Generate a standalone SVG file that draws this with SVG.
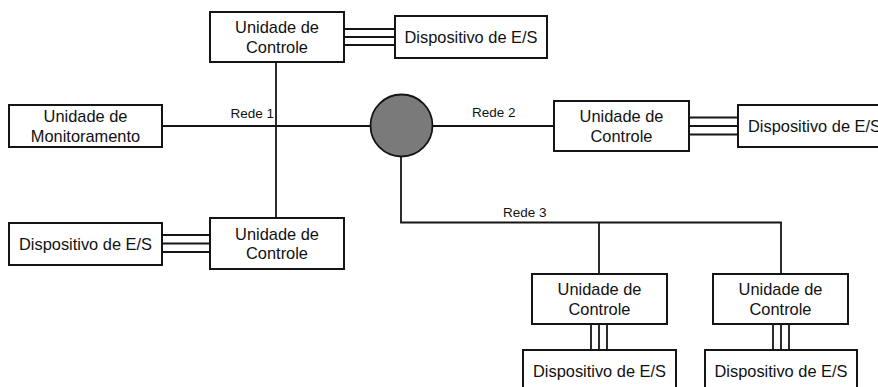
<svg xmlns="http://www.w3.org/2000/svg" width="878" height="387" viewBox="0 0 878 387">
<style>
.box{fill:#fff;stroke:#151515;stroke-width:2}
.ln{fill:none;stroke:#151515;stroke-width:1.8}
.t{font-family:"Liberation Sans",Arial,sans-serif;font-size:16.4px;fill:#111;text-anchor:middle}
.lbl{font-family:"Liberation Sans",Arial,sans-serif;font-size:13.5px;fill:#111}
</style>
<rect width="878" height="387" fill="#fff"/>
<g id="connectors">
<path class="ln" d="M162 126H371M276 62V218M432 126H554M401 157V222.5H781V274M599 222.5V274"/>
<path class="ln" d="M344 29H395M344 37H395M344 45H395"/>
<path class="ln" d="M689 117.5H738M689 126H738M689 134.5H738"/>
<path class="ln" d="M162 235H210M162 243.5H210M162 252H210"/>
<path class="ln" d="M591 324V350M599 324V350M607 324V350"/>
<path class="ln" d="M773 324V350M781 324V350M789 324V350"/>
<text class="lbl" x="274" y="118" text-anchor="end">Rede 1</text>
<text class="lbl" x="472" y="117">Rede 2</text>
<text class="lbl" x="503" y="217">Rede 3</text>
</g>
<g id="hub"><circle cx="401.5" cy="125.5" r="31" fill="#7a7a7a" stroke="#151515" stroke-width="1.8"/></g>
<g id="uc-top"><rect class="box" x="210" y="12" width="134" height="50"/><text class="t" x="277" y="33">Unidade de</text><text class="t" x="277" y="52.5">Controle</text></g>
<g id="es-top"><rect class="box" x="395" y="16" width="152" height="42"/><text class="t" x="471" y="43">Dispositivo de E/S</text></g>
<g id="monitor"><rect class="box" x="9" y="105" width="153" height="42"/><text class="t" x="85.5" y="122">Unidade de</text><text class="t" x="85.5" y="141.5">Monitoramento</text></g>
<g id="uc-right"><rect class="box" x="554" y="101" width="135" height="50"/><text class="t" x="621.5" y="122">Unidade de</text><text class="t" x="621.5" y="141.5">Controle</text></g>
<g id="es-right"><rect class="box" x="738" y="105" width="153" height="42"/><text class="t" x="814.5" y="132">Dispositivo de E/S</text></g>
<g id="es-left"><rect class="box" x="9" y="223" width="153" height="42"/><text class="t" x="85.5" y="250">Dispositivo de E/S</text></g>
<g id="uc-left"><rect class="box" x="210" y="218" width="134" height="51"/><text class="t" x="277" y="239.5">Unidade de</text><text class="t" x="277" y="259">Controle</text></g>
<g id="uc-b1"><rect class="box" x="532" y="274" width="135" height="50"/><text class="t" x="599.5" y="295">Unidade de</text><text class="t" x="599.5" y="314.5">Controle</text></g>
<g id="uc-b2"><rect class="box" x="713" y="274" width="135" height="50"/><text class="t" x="780.5" y="295">Unidade de</text><text class="t" x="780.5" y="314.5">Controle</text></g>
<g id="es-b1"><rect class="box" x="523" y="350" width="153" height="42"/><text class="t" x="599.5" y="376.5">Dispositivo de E/S</text></g>
<g id="es-b2"><rect class="box" x="705" y="350" width="152" height="42"/><text class="t" x="781" y="376.5">Dispositivo de E/S</text></g>
</svg>
